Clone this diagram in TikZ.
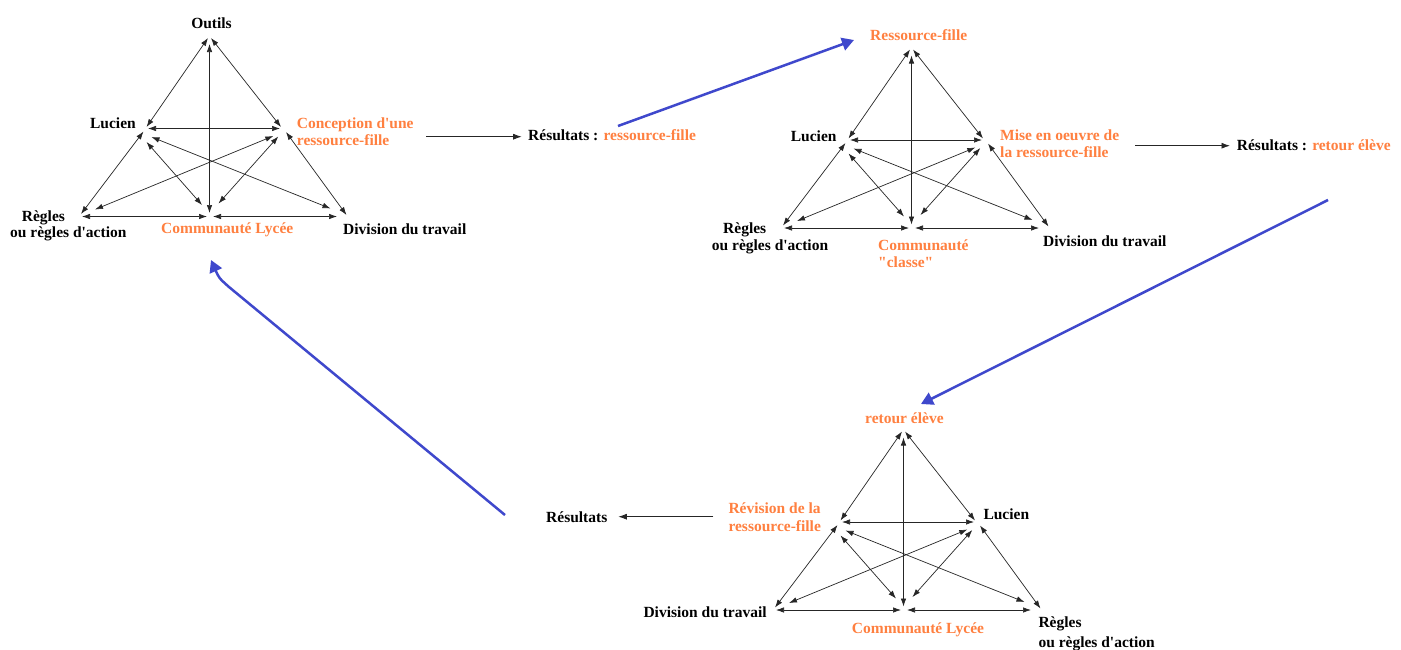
\documentclass[tikz,border=0pt]{standalone}
\usepackage{fontspec}
\setmainfont{Liberation Serif}
\usetikzlibrary{arrows.meta}
\definecolor{org}{RGB}{255,128,64}
\definecolor{ind}{RGB}{63,72,204}
\tikzset{
  lab/.style={inner sep=0pt,font=\fontsize{15.5}{17}\selectfont\bfseries,text=black},
  olab/.style={lab,text=org},
  link/.style={draw=black!85,line width=0.7pt,{Latex[length=8pt,width=5.5pt]}-{Latex[length=8pt,width=5.5pt]}},
  res/.style={draw=black!85,line width=0.8pt,-{Latex[length=8.5pt,width=6pt]}},
  blue/.style={draw=ind,line width=2.5pt,-{Triangle[length=12pt,width=13pt]}}
}
\newcommand\acttri[3]{%
  \begin{scope}[shift={(#2,#3)}]
    \coordinate (#1T) at (0,0);
    \coordinate (#1L) at (-63,91.5);
    \coordinate (#1R) at (71.5,91.5);
    \coordinate (#1BL) at (-129,179.5);
    \coordinate (#1BM) at (0,179.5);
    \coordinate (#1BR) at (128.5,179.5);
  \end{scope}
  \draw[link] ([shift={(-1.5,1)}]#1T) -- ([shift={(0,-1.5)}]#1L);
  \draw[link] ([shift={(1.5,1)}]#1T) -- ([shift={(0,-1.5)}]#1R);
  \draw[link] ([shift={(0,7)}]#1T) -- ([shift={(0,-3.5)}]#1BM);
  \draw[link] ([shift={(1.5,0)}]#1L) -- ([shift={(-1,0)}]#1R);
  \draw[link] ([shift={(-3,3)}]#1L) -- ([shift={(0.5,-2.5)}]#1BL);
  \draw[link] ([shift={(0,13.5)}]#1L) -- ([shift={(-7.5,-11.5)}]#1BM);
  \draw[link] ([shift={(5,8.5)}]#1L) -- ([shift={(-7.5,-8)}]#1BR);
  \draw[link] ([shift={(-7.7,7.5)}]#1R) -- ([shift={(14.5,-7)}]#1BL);
  \draw[link] ([shift={(-2.7,8)}]#1R) -- ([shift={(9,-13)}]#1BM);
  \draw[link] ([shift={(5,3.5)}]#1R) -- ([shift={(8.5,-1.5)}]#1BR);
  \draw[link] ([shift={(1.5,0)}]#1BL) -- ([shift={(-2.5,0)}]#1BM);
  \draw[link] ([shift={(3.5,0)}]#1BM) -- ([shift={(-1,0)}]#1BR);
}
\begin{document}
\begin{tikzpicture}[x=1pt,y=-1pt]
\useasboundingbox[fill=white] (0,0) rectangle (1401,649);

% ---------- triangle 1 ----------
\acttri{a}{209.5}{37}
\node[lab,anchor=base] (aTl) at (211.5,28.3) {Outils};
\node[lab,anchor=base east] (aLl) at (136,128.3) {Lucien};
\node[olab,anchor=base west] (aRl) at (296.7,128.3) {Conception d\textquotesingle une};
\node[olab,anchor=base west] (aRl2) at (296.7,145) {ressource-fille};
\node[lab,anchor=base west] (aBLl) at (21.7,221.7) {Règles};
\node[lab,anchor=base west] (aBLl2) at (10,237.5) {ou règles d\textquotesingle action};
\node[olab,anchor=base west] (aBMl) at (161,233.5) {Communauté Lycée};
\node[lab,anchor=base west] (aBRl) at (343,234.5) {Division du travail};
\coordinate (aresS) at (426,136.7);
\coordinate (aresE) at (521.7,136.7);
\node[lab,anchor=base west] (ares) at (528,140.7) {Résultats : \textcolor{org}{ressource-fille}};
\draw[res] (aresS) -- (aresE);

% ---------- triangle 2 ----------
\acttri{b}{911.5}{48.5}
\node[olab,anchor=base west] (bTl) at (870,40.7) {Ressource-fille};
\node[lab,anchor=base east] (bLl) at (836.7,141.7) {Lucien};
\node[olab,anchor=base west] (bRl) at (1000,140) {Mise en oeuvre de};
\node[olab,anchor=base west] (bRl2) at (1000,157.7) {la ressource-fille};
\node[lab,anchor=base west] (bBLl) at (723,233.3) {Règles};
\node[lab,anchor=base west] (bBLl2) at (711.7,250) {ou règles d\textquotesingle action};
\node[olab,anchor=base west] (bBMl) at (878,250.7) {Communauté};
\node[olab,anchor=base west] (bBMl2) at (878,267.3) {\textquotedbl classe\textquotedbl};
\node[lab,anchor=base west] (bBRl) at (1043,246.7) {Division du travail};
\coordinate (bresS) at (1135,145.7);
\coordinate (bresE) at (1230,145.7);
\node[lab,anchor=base west] (bres) at (1236.7,150.7) {Résultats : \textcolor{org}{retour élève}};
\draw[res] (bresS) -- (bresE);

% ---------- triangle 3 ----------
\acttri{c}{903.5}{430.5}
\node[olab,anchor=base west] (cTl) at (865,423) {retour élève};
\node[olab,anchor=base west] (cLl) at (728.3,513.3) {Révision de la};
\node[olab,anchor=base west] (cLl2) at (728.3,531.7) {ressource-fille};
\node[lab,anchor=base west] (cRl) at (983.3,519.3) {Lucien};
\node[lab,anchor=base west] (cBLl) at (643.3,617.3) {Division du travail};
\node[olab,anchor=base west] (cBMl) at (851.7,633.3) {Communauté Lycée};
\node[lab,anchor=base west] (cBRl) at (1038.3,627.7) {Règles};
\node[lab,anchor=base west] (cBRl2) at (1038.3,647) {ou règles d\textquotesingle action};
\coordinate (cresS) at (713.3,516.7);
\coordinate (cresE) at (618.3,516.7);
\node[lab,anchor=base west] (cres) at (546,522.3) {Résultats};
\draw[res] (cresS) -- (cresE);

% ---------- blue cycle arrows ----------
\coordinate (b1s) at (618,126);
\coordinate (b1e) at (854,40);
\coordinate (b2s) at (1328,200);
\coordinate (b2e) at (921,404);
\coordinate (b3s) at (505,515);
\coordinate (b3m) at (229,287);
\coordinate (b3c) at (219,278);
\coordinate (b3e) at (211,260);
\draw[blue] (b1s) -- (b1e);
\draw[blue] (b2s) -- (b2e);
\draw[blue] (b3s) -- (b3m) .. controls (b3c) .. (b3e);
\end{tikzpicture}
\end{document}
